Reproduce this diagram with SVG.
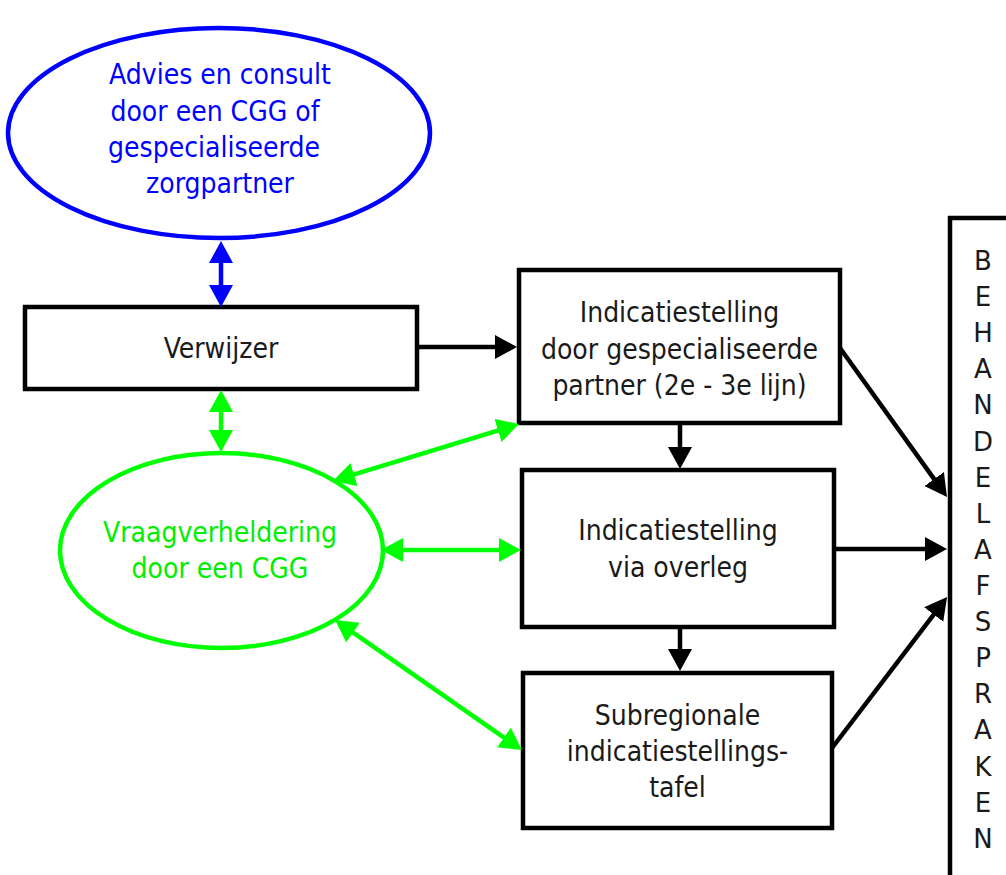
<svg xmlns="http://www.w3.org/2000/svg" width="1006" height="875" viewBox="0 0 1006 875">
<style>
text{font-family:"DejaVu Sans Condensed","DejaVu Sans",Verdana,sans-serif;font-size:28px;text-anchor:middle}
.v{font-family:"DejaVu Sans",Verdana,sans-serif;font-size:26px}
.box{fill:#fff;stroke:#000;stroke-width:4.5}
.k{fill:#1a1a1a}
.b{fill:#0000ff}
.g{fill:#00ee00}
.cb{stroke:#0000ff;stroke-width:4.5;fill:none}
.cg{stroke:#00ff00;stroke-width:4.5;fill:none}
.ck{stroke:#000;stroke-width:4.5;fill:none}
</style>
<defs>
<marker id="ak" markerUnits="userSpaceOnUse" markerWidth="26" markerHeight="26" refX="16" refY="12" orient="auto-start-reverse"><path d="M0,0 L22,12 L0,24 z" fill="#000"/></marker>
<marker id="ab" markerUnits="userSpaceOnUse" markerWidth="26" markerHeight="26" refX="16" refY="12" orient="auto-start-reverse"><path d="M0,0 L22,12 L0,24 z" fill="#0000ff"/></marker>
<marker id="ag" markerUnits="userSpaceOnUse" markerWidth="26" markerHeight="26" refX="16" refY="12" orient="auto-start-reverse"><path d="M0,0 L22,12 L0,24 z" fill="#00ff00"/></marker>
</defs>
<rect width="1006" height="875" fill="#fff"/>
<g id="advies">
<ellipse cx="219" cy="133" rx="211" ry="105" fill="#fff" stroke="#0000ff" stroke-width="4.5"/>
<text class="b" x="220" y="84">Advies en consult</text>
<text class="b" x="215" y="121">door een CGG of</text>
<text class="b" x="214" y="157">gespecialiseerde</text>
<text class="b" x="220" y="193">zorgpartner</text>
</g>
<g id="verwijzer">
<rect class="box" x="25" y="307" width="392" height="82"/>
<text class="k" x="221" y="358">Verwijzer</text>
</g>
<g id="vraagverheldering">
<ellipse cx="221.5" cy="550.5" rx="161.5" ry="97.5" fill="#fff" stroke="#00ff00" stroke-width="4.5"/>
<text class="g" x="220" y="542">Vraagverheldering</text>
<text class="g" x="220" y="578">door een CGG</text>
</g>
<g id="indicatie-partner">
<rect class="box" x="519" y="270" width="321" height="153"/>
<text class="k" x="679.5" y="322">Indicatiestelling</text>
<text class="k" x="679.5" y="358.5">door gespecialiseerde</text>
<text class="k" x="679.5" y="395">partner (2e - 3e lijn)</text>
</g>
<g id="indicatie-overleg">
<rect class="box" x="522" y="470" width="312" height="157"/>
<text class="k" x="678" y="540">Indicatiestelling</text>
<text class="k" x="678" y="577">via overleg</text>
</g>
<g id="subregionale">
<rect class="box" x="523" y="673" width="309" height="155"/>
<text class="k" x="677.5" y="725">Subregionale</text>
<text class="k" x="677.5" y="761">indicatiestellings-</text>
<text class="k" x="677.5" y="797">tafel</text>
</g>
<g id="behandelafspraken">
<rect class="box" x="950" y="218" width="100" height="700"/>
<text class="k v" x="983" y="270">B</text>
<text class="k v" x="983" y="306">E</text>
<text class="k v" x="983" y="342">H</text>
<text class="k v" x="983" y="378">A</text>
<text class="k v" x="983" y="414">N</text>
<text class="k v" x="983" y="450.5">D</text>
<text class="k v" x="983" y="486.5">E</text>
<text class="k v" x="983" y="522.5">L</text>
<text class="k v" x="983" y="559">A</text>
<text class="k v" x="983" y="595">F</text>
<text class="k v" x="983" y="631">S</text>
<text class="k v" x="983" y="667">P</text>
<text class="k v" x="983" y="703">R</text>
<text class="k v" x="983" y="739">A</text>
<text class="k v" x="983" y="775.5">K</text>
<text class="k v" x="983" y="811.5">E</text>
<text class="k v" x="983" y="847.5">N</text>
</g>
<g id="connectors">
<line class="cb" x1="221" y1="247" x2="221" y2="301" marker-start="url(#ab)" marker-end="url(#ab)"/>
<line class="cg" x1="221" y1="396" x2="221" y2="446" marker-start="url(#ag)" marker-end="url(#ag)"/>
<line class="cg" x1="338.7" y1="479.2" x2="513.3" y2="425.8" marker-start="url(#ag)" marker-end="url(#ag)"/>
<line class="cg" x1="387" y1="550" x2="515" y2="550" marker-start="url(#ag)" marker-end="url(#ag)"/>
<line class="cg" x1="339.9" y1="623.4" x2="517.1" y2="746.6" marker-start="url(#ag)" marker-end="url(#ag)"/>
<line class="ck" x1="417" y1="347" x2="511" y2="347" marker-end="url(#ak)"/>
<line class="ck" x1="680" y1="423" x2="680" y2="463" marker-end="url(#ak)"/>
<line class="ck" x1="680" y1="627" x2="680" y2="665" marker-end="url(#ak)"/>
<line class="ck" x1="840" y1="348" x2="943.5" y2="492.1" marker-end="url(#ak)"/>
<line class="ck" x1="834" y1="549" x2="941" y2="549" marker-end="url(#ak)"/>
<line class="ck" x1="832" y1="748" x2="943.4" y2="601.8" marker-end="url(#ak)"/>
</g>
</svg>
